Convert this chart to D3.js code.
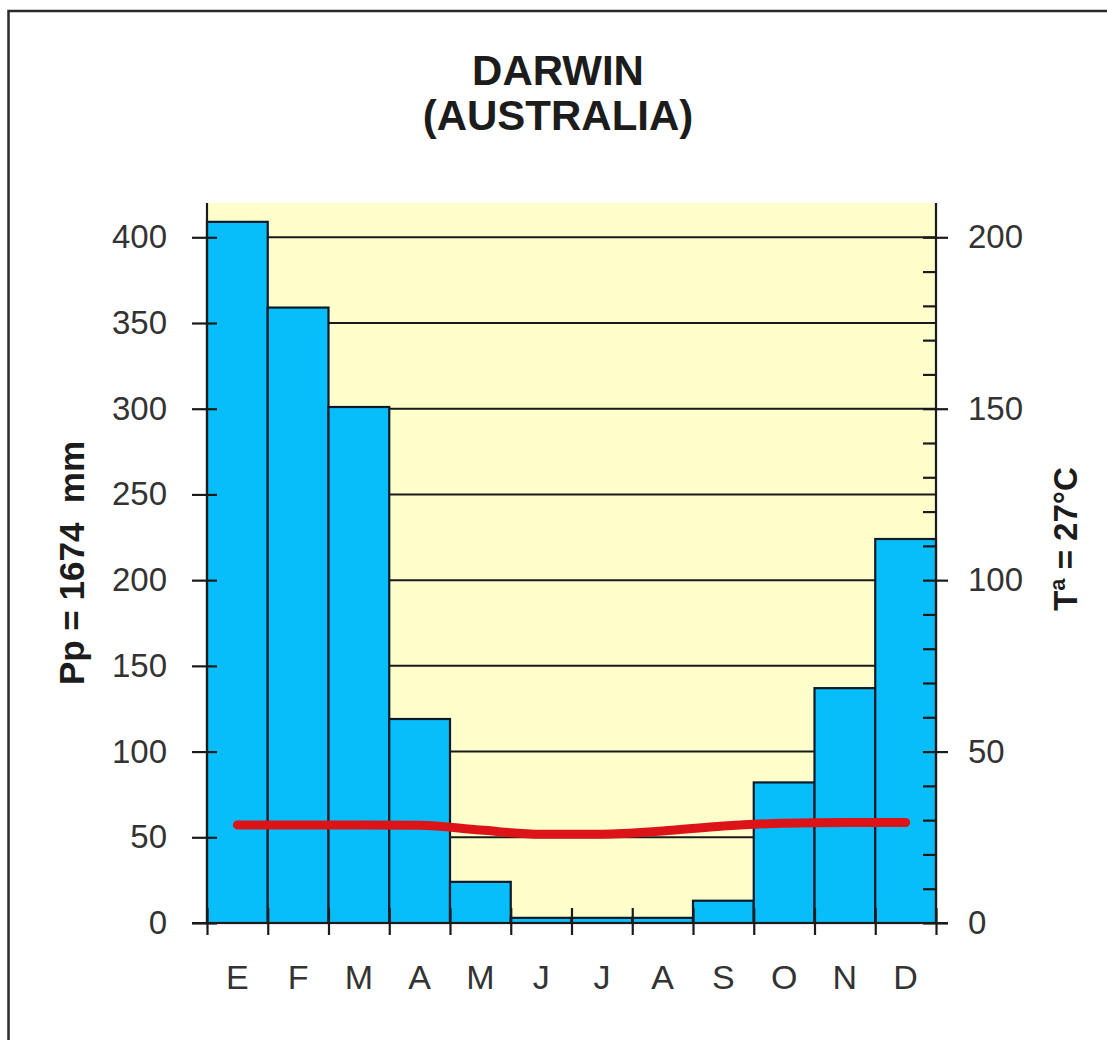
<!DOCTYPE html>
<html>
<head>
<meta charset="utf-8">
<script src="https://cdn.jsdelivr.net/npm/d3@7"></script>
<style>
  html, body { margin: 0; padding: 0; background: #ffffff; }
  svg { display: block; }
  text { font-family: "Liberation Sans", Arial, sans-serif; }
</style>
</head>
<body>
<svg id="chart" width="1107" height="1040"></svg>
<script>
// ---- data ----
const months = ["E", "F", "M", "A", "M ", "J", "J ", "A ", "S", "O", "N", "D"];
const monthLabels = ["E", "F", "M", "A", "M", "J", "J", "A", "S", "O", "N", "D"];
const precipitation = [409, 359, 301, 119, 24, 3, 3, 3, 13, 82, 137, 224];
const temperature = [28.6, 28.6, 28.6, 28.5, 27.1, 25.9, 25.9, 26.8, 28.3, 29.1, 29.3, 29.3];
const precipTicks = [0, 50, 100, 150, 200, 250, 300, 350, 400];
const tempTicks = [0, 50, 100, 150, 200];
const tempMinorTicks = [10, 20, 30, 40, 60, 70, 80, 90, 110, 120, 130, 140, 160, 170, 180, 190];
const titleLines = ["DARWIN", "(AUSTRALIA)"];
const leftTitle = "Pp = 1674  mm";
const rightTitle = "Tª = 27°C";

(function () {
// ---- layout ----
const svg = d3.select("#chart");
const pLeft = 207, pRight = 936, pTop = 203, pBottom = 923;

const x = d3.scaleBand().domain(months).range([pLeft, pRight]).padding(0);
const xEdge = d3.scaleLinear().domain([0, 12]).range([pLeft, pRight]);
const yP = d3.scaleLinear().domain([0, 420]).range([pBottom, pTop]);
const yT = d3.scaleLinear().domain([0, 210]).range([pBottom, pTop]);
const FONT = "'Liberation Sans', Arial, sans-serif";

// outer frame (only left/top visible in the reference)
svg.append("rect")
  .attr("x", 8.5).attr("y", 11).attr("width", 1300).attr("height", 1300)
  .attr("fill", "none").attr("stroke", "#2a2a2a").attr("stroke-width", 2.5);

// title
svg.append("g").selectAll("text").data(titleLines).join("text")
  .attr("x", 558).attr("y", (d, i) => 85 + i * 45)
  .attr("text-anchor", "middle")
  .attr("font-size", 42).attr("font-weight", "bold").attr("fill", "#1c1c1c")
  .text(d => d);

// plot background
svg.append("rect")
  .attr("x", pLeft).attr("y", pTop).attr("width", pRight - pLeft).attr("height", pBottom - pTop)
  .attr("fill", "#ffffcc");

// gridlines
svg.append("g").selectAll("line").data(precipTicks.filter(d => d > 0)).join("line")
  .attr("x1", pLeft).attr("x2", pRight)
  .attr("y1", d => yP(d)).attr("y2", d => yP(d))
  .attr("stroke", "#1a1a1a").attr("stroke-width", 2);

// bars
svg.append("g").selectAll("rect").data(precipitation).join("rect")
  .attr("x", (d, i) => x(months[i]))
  .attr("y", d => yP(d))
  .attr("width", x.bandwidth())
  .attr("height", d => pBottom - yP(d))
  .attr("fill", "#08befa")
  .attr("stroke", "#0b1a26").attr("stroke-width", 2.2);

// temperature line
const line = d3.line()
  .x((d, i) => x(months[i]) + x.bandwidth() / 2)
  .y(d => yT(d))
  .curve(d3.curveMonotoneX);
svg.append("path")
  .datum(temperature)
  .attr("d", line)
  .attr("fill", "none")
  .attr("stroke", "#dc1418")
  .attr("stroke-width", 9)
  .attr("stroke-linecap", "round")
  .attr("stroke-linejoin", "round");

// left axis
const axL = svg.append("g").attr("transform", `translate(${pLeft},0)`)
  .call(d3.axisLeft(yP).tickValues(precipTicks).tickSize(15).tickPadding(25));
axL.select(".domain").attr("d", `M0,${pTop}V${pBottom}`).attr("stroke", "#1a1a1a").attr("stroke-width", 2.2);
axL.selectAll(".tick line").attr("x1", 10).attr("stroke", "#1a1a1a").attr("stroke-width", 2.2);
axL.selectAll(".tick text").attr("font-size", 33).attr("fill", "#333").attr("font-family", FONT);

// right axis (temperature)
const axR = svg.append("g").attr("transform", `translate(${pRight},0)`)
  .call(d3.axisRight(yT).tickValues(tempTicks).tickSize(12).tickPadding(20));
axR.select(".domain").attr("d", `M0,${pTop}V${pBottom}`).attr("stroke", "#1a1a1a").attr("stroke-width", 2.2);
axR.selectAll(".tick line").attr("x1", -13).attr("stroke", "#1a1a1a").attr("stroke-width", 2.2);
axR.selectAll(".tick text").attr("font-size", 33).attr("fill", "#333").attr("font-family", FONT);

const axRm = svg.append("g").attr("transform", `translate(${pRight},0)`)
  .call(d3.axisRight(yT).tickValues(tempMinorTicks).tickSize(0).tickFormat(""));
axRm.select(".domain").remove();
axRm.selectAll(".tick line").attr("x1", -13).attr("x2", 0).attr("stroke", "#1a1a1a").attr("stroke-width", 2.2);

// bottom axis: tick marks on month boundaries
const axB = svg.append("g").attr("transform", `translate(0,${pBottom})`)
  .call(d3.axisBottom(xEdge).tickValues(d3.range(0, 13)).tickSize(12).tickFormat(""));
axB.select(".domain").attr("d", `M${pLeft - 15},0H${pRight + 12}`).attr("stroke", "#1a1a1a").attr("stroke-width", 2.2);
axB.selectAll(".tick line").attr("y1", -15).attr("stroke", "#1a1a1a").attr("stroke-width", 2.2);

// bottom axis: month labels
const axBl = svg.append("g").attr("transform", `translate(0,${pBottom})`)
  .call(d3.axisBottom(x).tickSize(0).tickPadding(42).tickFormat((d, i) => monthLabels[i]));
axBl.select(".domain").remove();
axBl.selectAll(".tick text").attr("font-size", 34).attr("fill", "#333").attr("font-family", FONT);

// axis titles
svg.append("text")
  .attr("transform", "translate(84,563) rotate(-90)")
  .attr("text-anchor", "middle")
  .attr("font-size", 35).attr("font-weight", "bold").attr("fill", "#1c1c1c")
  .style("white-space", "pre")
  .text(leftTitle);

svg.append("text")
  .attr("transform", "translate(1077,539) rotate(-90)")
  .attr("text-anchor", "middle")
  .attr("font-size", 33).attr("font-weight", "bold").attr("fill", "#1c1c1c")
  .text(rightTitle);
})();
</script>
</body>
</html>
